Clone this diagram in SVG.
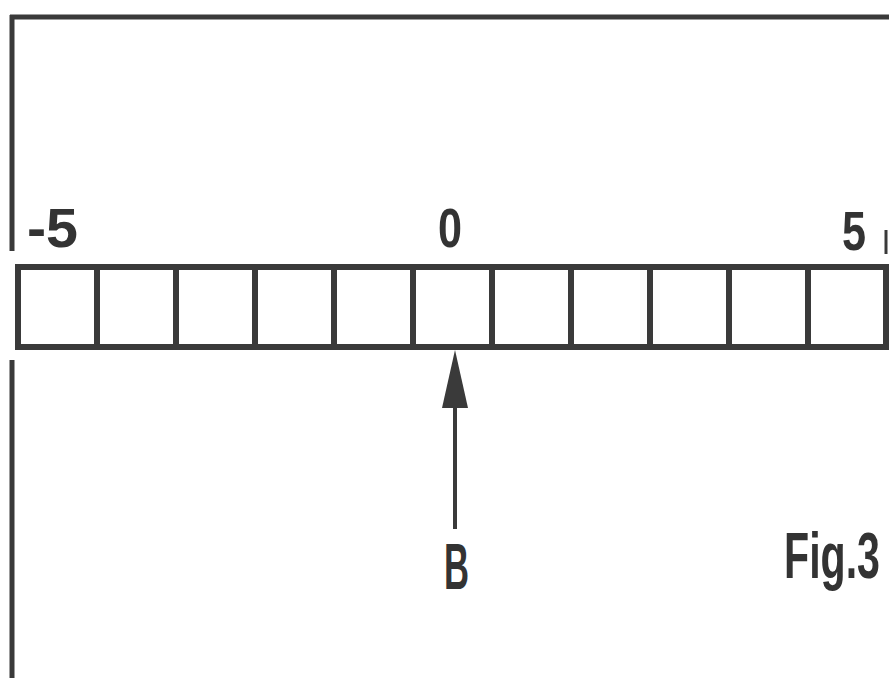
<svg xmlns="http://www.w3.org/2000/svg" width="889" height="678" viewBox="0 0 889 678">
<style>
.ln{stroke:#3a3a3a;fill:none;stroke-linecap:butt}
.t{font-family:"Liberation Sans",Arial,sans-serif;font-weight:bold;fill:#333;}
</style>
<rect width="889" height="678" fill="#fff"/>
<g id="frame">
<path class="ln" stroke-width="5" d="M10 17 H889 M12 15 V251 M12 360 V678"/>
<path class="ln" stroke-width="3" stroke="#555" d="M886 230 V254"/>
</g>
<g id="scale">
<rect class="ln" stroke-width="6" x="18" y="267" width="868" height="80"/>
<path class="ln" stroke-width="6" d="M97 267V347M176 267V347M255 267V347M334 267V347M413 267V347M492 267V347M571 267V347M650 267V347M729 267V347M808 267V347"/>
</g>
<g id="labels">
<text class="t" x="27" y="247" font-size="56" textLength="51" lengthAdjust="spacingAndGlyphs">-5</text>
<text class="t" x="438" y="247" font-size="56" textLength="24" lengthAdjust="spacingAndGlyphs">0</text>
<text class="t" x="842" y="250" font-size="56" textLength="24" lengthAdjust="spacingAndGlyphs">5</text>
</g>
<g id="connectors">
<path class="ln" stroke-width="4" d="M455 400 V529"/>
<polygon points="455,350 442,408 468,408" fill="#3a3a3a"/>
</g>
<g id="B">
<text class="t" x="444" y="589" font-size="64" textLength="25" lengthAdjust="spacingAndGlyphs">B</text>
</g>
<g id="fig">
<text class="t" x="784" y="578" font-size="64" textLength="96" lengthAdjust="spacingAndGlyphs">Fig.3</text>
</g>
</svg>
